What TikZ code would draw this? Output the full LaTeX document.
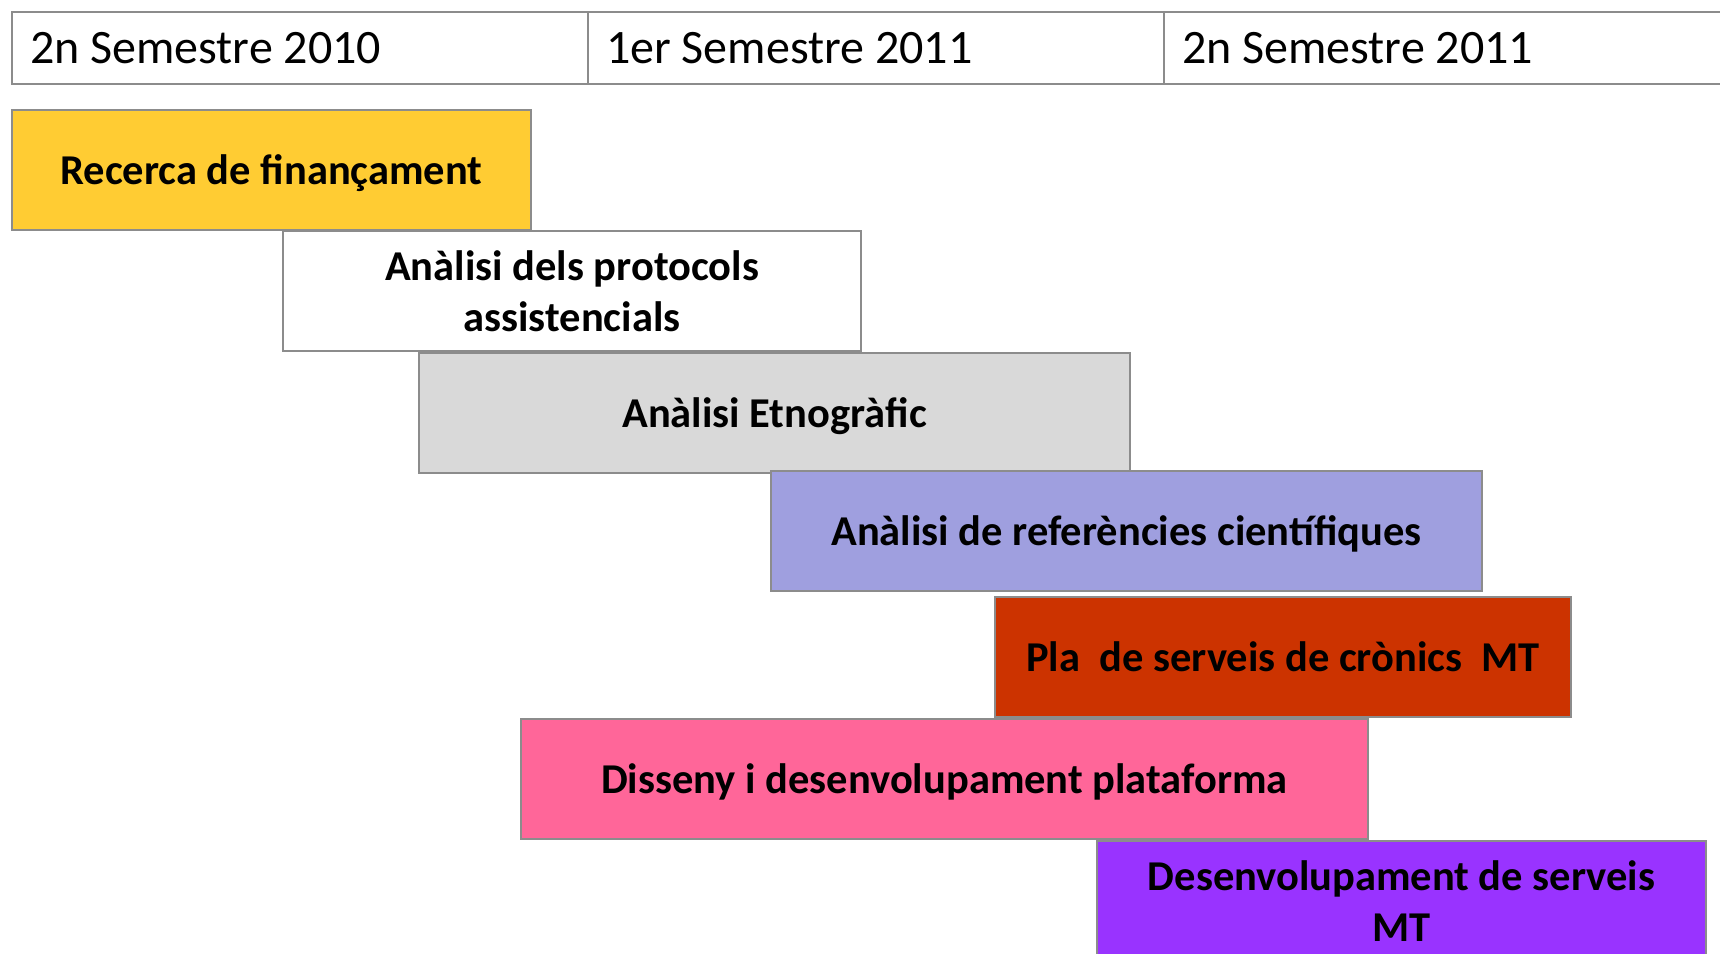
\documentclass[tikz,border=0pt]{standalone}
\usepackage{fontspec}
\setmainfont{Carlito}
\definecolor{edgegray}{HTML}{8C8C8C}
\definecolor{cyellow}{HTML}{FFCC33}
\definecolor{cgray}{HTML}{D9D9D9}
\definecolor{clav}{HTML}{9F9FDF}
\definecolor{cred}{HTML}{CC3300}
\definecolor{cpink}{HTML}{FF6699}
\definecolor{cviolet}{HTML}{9933FF}
\newcommand{\headtxt}[1]{\makebox[540pt][l]{#1}}
\tikzset{
  headcell/.style={draw=edgegray, line width=2pt, fill=white, anchor=north west,
    minimum height=72pt, inner xsep=18pt, inner ysep=0pt,
    font=\fontsize{48}{58}\selectfont},
  taskbox/.style={draw=edgegray, line width=2pt, anchor=north west,
    minimum height=120pt, inner sep=0pt, align=center,
    font=\fontsize{42.5}{51}\selectfont\bfseries},
  oneline/.style={text height=37pt, text depth=8pt}
}
\begin{document}
\begin{tikzpicture}[x=1pt,y=-1pt]
\useasboundingbox (0,0) rectangle (1720,953);
\clip (0,0) rectangle (1720,953);
\fill[white] (0,0) rectangle (1720,953);
% header
\node[headcell] (h1) at (11,11) {\headtxt{2n Semestre 2010}};
\node[headcell] (h2) at (587,11) {\headtxt{1er Semestre 2011}};
\node[headcell] (h3) at (1163,11) {\headtxt{2n Semestre 2011}};
% tasks
\node[taskbox, oneline, fill=cyellow, minimum width=519pt] (t1) at (11,109) {Recerca de finançament};
\node[taskbox, fill=white, minimum width=578pt] (t2) at (282,230) {Anàlisi dels protocols\\assistencials};
\node[taskbox, oneline, fill=cgray, minimum width=711pt] (t3) at (418,352) {Anàlisi Etnogràfic};
\node[taskbox, oneline, fill=clav, minimum width=711pt] (t4) at (770,470) {Anàlisi de referències científiques};
\node[taskbox, oneline, fill=cred, minimum width=576pt] (t5) at (994,596) {Pla\ \ de serveis de crònics\ \ MT};
\node[taskbox, oneline, fill=cpink, minimum width=847pt] (t6) at (520,718) {Disseny i desenvolupament plataforma};
\node[taskbox, fill=cviolet, minimum width=609pt] (t7) at (1096,840) {Desenvolupament de serveis\\MT};
\end{tikzpicture}
\end{document}
